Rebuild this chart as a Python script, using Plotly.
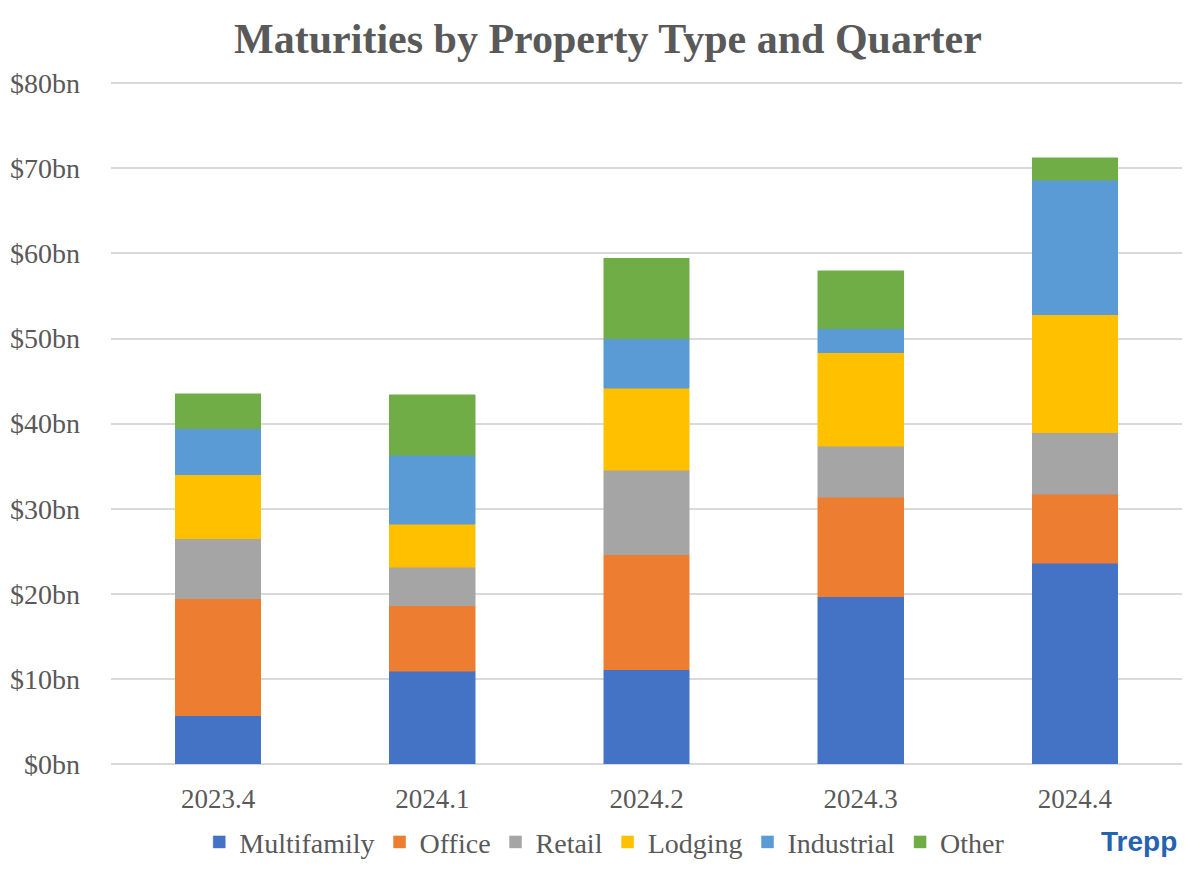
import plotly.graph_objects as go

quarters = ["2023.4", "2024.1", "2024.2", "2024.3", "2024.4"]

multifamily = [5.7, 10.9, 11.1, 19.65, 23.6]
office = [13.7, 7.7, 13.5, 11.7, 8.1]
retail = [7.1, 4.5, 9.95, 6.0, 7.25]
lodging = [7.5, 5.1, 9.6, 11.0, 13.85]
industrial = [5.4, 8.1, 5.85, 2.8, 15.8]
other = [4.1, 7.1, 9.45, 6.8, 2.65]

series = [
    ("Multifamily", multifamily, "#4472c4"),
    ("Office", office, "#ed7d31"),
    ("Retail", retail, "#a5a5a5"),
    ("Lodging", lodging, "#ffc000"),
    ("Industrial", industrial, "#5b9bd5"),
    ("Other", other, "#70ad47"),
]

tick_vals = [0, 10, 20, 30, 40, 50, 60, 70, 80]
tick_text = ["$%dbn" % v for v in tick_vals]

fig = go.Figure()

for name, vals, color in series:
    fig.add_trace(
        go.Bar(
            x=quarters,
            y=vals,
            name=name,
            marker=dict(color=color, line=dict(color=color, width=0.5)),
        )
    )

# page body adds 8px offset, margins compensate
fig.update_layout(
    barmode="stack",
    bargap=0.6,
    width=1200,
    height=870,
    paper_bgcolor="white",
    plot_bgcolor="white",
    margin=dict(l=103, r=26, t=74, b=113),
    font=dict(family="Liberation Serif", size=28, color="#595959"),
    title=dict(
        text="<b>Maturities by Property Type and Quarter</b>",
        x=0.5,
        xanchor="center",
        y=0.9655,
        yanchor="middle",
        font=dict(family="Liberation Serif", size=42, color="#595959"),
    ),
    xaxis=dict(
        showgrid=False,
        showline=False,
        ticks="",
        tickfont=dict(size=27),
        ticklabelstandoff=16,
        automargin=False,
    ),
    yaxis=dict(
        range=[0, 80.15],
        tickvals=tick_vals,
        ticktext=tick_text,
        showgrid=True,
        gridcolor="#d9d9d9",
        gridwidth=1.5,
        zeroline=True,
        zerolinecolor="#d9d9d9",
        zerolinewidth=1.5,
        ticks="",
        tickfont=dict(size=28),
        ticklabelstandoff=30,
        automargin=False,
    ),
    legend=dict(
        orientation="h",
        x=0.461,
        xanchor="center",
        y=-0.113,
        yanchor="middle",
        font=dict(size=28),
        itemwidth=30,
        traceorder="normal",
    ),
    annotations=[
        dict(
            text="<b>Trepp</b>",
            xref="paper",
            yref="paper",
            x=0.997,
            y=-0.114,
            xanchor="right",
            yanchor="middle",
            showarrow=False,
            font=dict(family="Liberation Sans", size=28, color="#2563b0"),
        )
    ],
)

fig.write_html("out.html")
